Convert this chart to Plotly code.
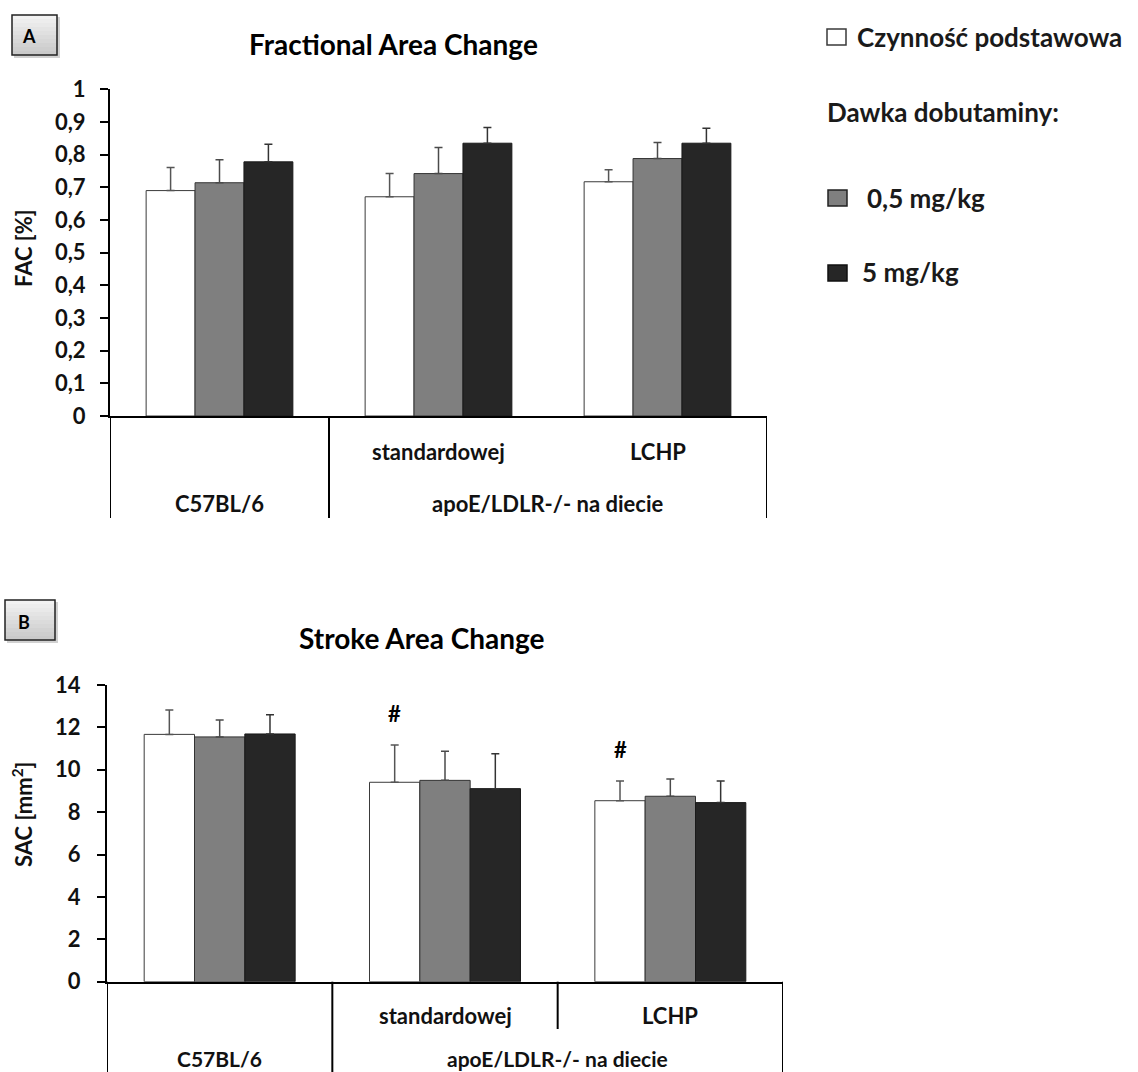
import plotly.graph_objects as go

# ---- data -------------------------------------------------------------
GROUPS = ["C57BL/6", "standardowej", "LCHP"]
SERIES = ["Czynność podstawowa", "0,5 mg/kg", "5 mg/kg"]

# Fractional Area Change (FAC)
FAC_BASE = [0.690, 0.671, 0.717]
FAC_LOW = [0.714, 0.742, 0.788]
FAC_HIGH = [0.778, 0.835, 0.835]
FAC_BASE_SD = [0.071, 0.071, 0.037]
FAC_LOW_SD = [0.070, 0.080, 0.049]
FAC_HIGH_SD = [0.054, 0.048, 0.046]

# Stroke Area Change (SAC)
SAC_BASE = [11.67, 9.41, 8.54]
SAC_LOW = [11.55, 9.50, 8.75]
SAC_HIGH = [11.69, 9.11, 8.45]
SAC_BASE_SD = [1.15, 1.76, 0.93]
SAC_LOW_SD = [0.80, 1.37, 0.82]
SAC_HIGH_SD = [0.91, 1.65, 1.02]

# groups marked as significantly different (#) for baseline SAC
SAC_SIG = ["standardowej", "LCHP"]

ROW1_LABELS = ["", "standardowej", "LCHP"]
ROW2_LABELS = ["C57BL/6", "apoE/LDLR-/- na diecie"]
ROW2_SPAN = [(0, 0), (1, 2)]

FAC_TICKS = [0, 0.1, 0.2, 0.3, 0.4, 0.5, 0.6, 0.7, 0.8, 0.9, 1]
SAC_TICKS = [0, 2, 4, 6, 8, 10, 12, 14]

# ---- styling ------------------------------------------------------------
W, H = 1138, 1072
FONT = "Lato"
FILLS = ["#ffffff", "#7f7f7f", "#262626"]
EDGES = ["#3a3a3a", "#333333", "#1a1a1a"]
ERRC = ["#555555", "#4a4a4a", "#333333"]


def px(x):
    return x / W


def py(y):
    return 1 - y / H


fig = go.Figure()

panels = [
    ("x", "y", [FAC_BASE, FAC_LOW, FAC_HIGH], [FAC_BASE_SD, FAC_LOW_SD, FAC_HIGH_SD]),
    ("x2", "y2", [SAC_BASE, SAC_LOW, SAC_HIGH], [SAC_BASE_SD, SAC_LOW_SD, SAC_HIGH_SD]),
]
for xa, ya, vals, sds in panels:
    for k in range(3):
        fig.add_trace(go.Bar(
            x=GROUPS, y=vals[k], name=SERIES[k], xaxis=xa, yaxis=ya,
            offsetgroup=str(k), showlegend=False,
            marker=dict(color=FILLS[k], line=dict(color=EDGES[k], width=1)),
            error_y=dict(type="data", array=sds[k], arrayminus=[0] * 3,
                         symmetric=False, color=ERRC[k], thickness=1.5, width=4),
        ))

axis_font = dict(family=FONT, size=22, color="#111111", weight="bold")
low_label_font = dict(family=FONT, size=21, color="#111111", weight="bold")

common_x = dict(range=[-0.5, 2.5], showticklabels=False, ticks="", showline=True,
                linecolor="black", linewidth=2, showgrid=False, zeroline=False,
                automargin=False)
common_y = dict(ticks="outside", ticklen=8, tickwidth=2, tickcolor="black",
                showline=True, linecolor="black", linewidth=2, showgrid=False,
                zeroline=False, tickfont=axis_font, automargin=False)

fig.update_layout(
    width=W, height=H,
    margin=dict(l=0, r=0, t=0, b=0, pad=0, autoexpand=False),
    paper_bgcolor="white", plot_bgcolor="white",
    barmode="group", bargap=0.33, bargroupgap=0,
    separators=", ",
    showlegend=False,
    font=dict(family=FONT, color="#111111"),
    xaxis=dict(domain=[px(110), px(767)], anchor="y", **common_x),
    yaxis=dict(domain=[py(416), py(89.3)], range=[0, 1], tickvals=FAC_TICKS,
               ticklabelstandoff=10, anchor="x", **common_y),
    xaxis2=dict(domain=[px(107), px(783)], anchor="y2", **common_x),
    yaxis2=dict(domain=[py(981.7), py(685)], range=[0, 14], tickvals=SAC_TICKS,
                ticklabelstandoff=12, anchor="x2", **common_y),
)

shapes = []
ann = []


def vline(xref, x, y0, y1):
    shapes.append(dict(type="line", xref=xref, yref="paper", x0=x, x1=x,
                       y0=py(y0), y1=py(y1), line=dict(color="black", width=2)))


# category frame lines below each panel
for x in (-0.5, 0.5, 2.5):
    vline("x", x, 416, 518)
for x in (-0.5, 0.5, 2.5):
    vline("x2", x, 981.7, 1072)
vline("x2", 1.5, 981.7, 1029)

# category labels
for xref, y1, y2, f2 in (("x", 452, 503, axis_font), ("x2", 1015, 1058, low_label_font)):
    for i, lab in enumerate(ROW1_LABELS):
        if lab:
            ann.append(dict(xref=xref, yref="paper", x=i, y=py(y1), text=f"<b>{lab}</b>",
                            showarrow=False, font=axis_font, xanchor="center",
                            yanchor="middle"))
    for lab, (a, b) in zip(ROW2_LABELS, ROW2_SPAN):
        ann.append(dict(xref=xref, yref="paper", x=(a + b) / 2, y=py(y2),
                        text=f"<b>{lab}</b>", showarrow=False, font=f2,
                        xanchor="center", yanchor="middle"))

# titles
title_font = dict(family=FONT, size=28, color="black", weight="bold")
ann.append(dict(xref="paper", yref="paper", x=px(393), y=py(44),
                text="<b>Fractional Area Change</b>", showarrow=False,
                font=title_font, xanchor="center", yanchor="middle"))
ann.append(dict(xref="paper", yref="paper", x=px(422), y=py(638),
                text="<b>Stroke Area Change</b>", showarrow=False,
                font=title_font, xanchor="center", yanchor="middle"))

# y-axis titles
ytitle_font = dict(family=FONT, size=22, color="#111111", weight="bold")
ann.append(dict(xref="paper", yref="paper", x=px(23), y=py(248), text="<b>FAC [%]</b>",
                textangle=-90, showarrow=False, font=ytitle_font,
                xanchor="center", yanchor="middle"))
ann.append(dict(xref="paper", yref="paper", x=px(22), y=py(815),
                text="<b>SAC [mm<sup>2</sup>]</b>", textangle=-90, showarrow=False,
                font=ytitle_font, xanchor="center", yanchor="middle"))

# significance marks above the baseline bars
bar_w = (1 - 0.33) / 3
for g in SAC_SIG:
    i = GROUPS.index(g)
    ann.append(dict(xref="x2", yref="y2", x=i - bar_w, y=SAC_BASE[i] + SAC_BASE_SD[i],
                    text="<b>#</b>", showarrow=False, yanchor="bottom", yshift=16,
                    font=dict(family=FONT, size=22, color="black", weight="bold")))


# panel letter boxes with a soft gradient and shadow
def letter_box(x0, y0, x1, y1, letter, tx, ty):
    shapes.append(dict(type="rect", xref="paper", yref="paper",
                       x0=px(x0 + 2), x1=px(x1 + 3), y0=py(y1 + 3), y1=py(y0 + 2),
                       line=dict(width=0), fillcolor="rgba(0,0,0,0.18)"))
    n = 10
    for j in range(n):
        g = int(242 - 40 * j / (n - 1))
        ya = y0 + (y1 - y0) * j / n
        yb = y0 + (y1 - y0) * (j + 1) / n
        shapes.append(dict(type="rect", xref="paper", yref="paper",
                           x0=px(x0), x1=px(x1), y0=py(yb), y1=py(ya),
                           line=dict(width=0), fillcolor=f"rgb({g},{g},{g})"))
    shapes.append(dict(type="rect", xref="paper", yref="paper",
                       x0=px(x0), x1=px(x1), y0=py(y1), y1=py(y0),
                       line=dict(color="#222222", width=1.5), fillcolor="rgba(0,0,0,0)"))
    ann.append(dict(xref="paper", yref="paper", x=px(tx), y=py(ty), text=f"<b>{letter}</b>",
                    showarrow=False,
                    font=dict(family=FONT, size=18, color="black", weight="bold"),
                    xanchor="center", yanchor="middle"))


letter_box(12, 15, 57, 55, "A", 29, 36)
letter_box(5, 600, 55, 640, "B", 24, 622)

# legend
legend_font = dict(family=FONT, size=26, color="#1a1a1a", weight="bold")
legend_items = [
    (FILLS[0], EDGES[0], SERIES[0], 827, 29, 855, 37),
    (FILLS[1], "#222222", SERIES[1], 828, 190, 865, 198),
    (FILLS[2], "#111111", SERIES[2], 828, 265, 860, 272),
]
for fill, edge, label, sx, sy, tx, ty in legend_items:
    shapes.append(dict(type="rect", xref="paper", yref="paper",
                       x0=px(sx), x1=px(sx + 19), y0=py(sy + 16), y1=py(sy),
                       line=dict(color=edge, width=1.5), fillcolor=fill))
    ann.append(dict(xref="paper", yref="paper", x=px(tx), y=py(ty), text=f"<b>{label}</b>",
                    showarrow=False, xanchor="left", yanchor="middle", font=legend_font))
ann.append(dict(xref="paper", yref="paper", x=px(825), y=py(112),
                text="<b>Dawka dobutaminy:</b>", showarrow=False, xanchor="left",
                yanchor="middle", font=legend_font))

fig.update_layout(shapes=shapes, annotations=ann)
fig.write_html("out.html")
